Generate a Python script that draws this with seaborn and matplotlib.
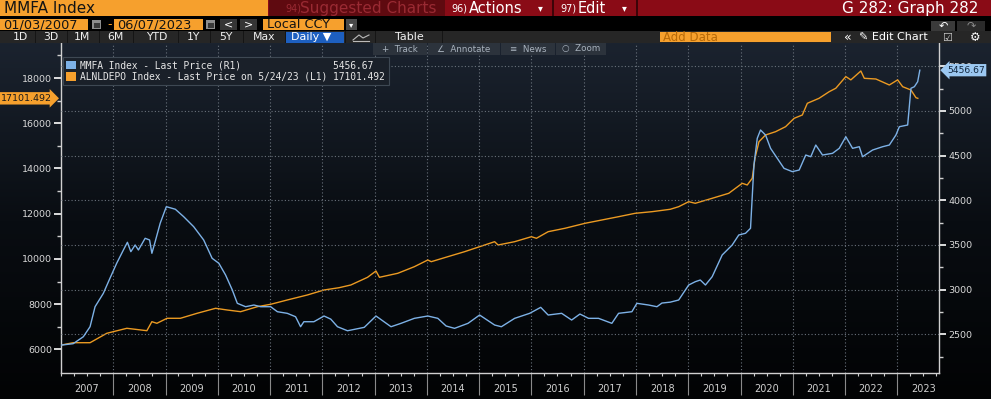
import numpy as np
import pandas as pd
import matplotlib
matplotlib.use("Agg")
import matplotlib.pyplot as plt
import matplotlib.dates as mdates
import matplotlib.transforms as mtrans
from matplotlib.patches import Rectangle, Patch
from matplotlib.colors import LinearSegmentedColormap
import seaborn as sns

# ---------------- data ----------------
mmfa_dates = ["2007-01-05","2007-03-27","2007-06-06","2007-07-23","2007-08-27","2007-10-24","2007-12-09",
    "2008-01-25","2008-03-12","2008-04-09","2008-05-03","2008-06-02","2008-06-25","2008-08-11","2008-09-11",
    "2008-09-27","2008-10-20","2008-11-24","2009-01-06","2009-03-10","2009-05-07","2009-07-16","2009-09-24",
    "2009-11-22","2010-01-08","2010-02-24","2010-04-12","2010-05-17","2010-07-14","2010-09-10","2010-10-27",
    "2011-01-05","2011-02-21","2011-05-01","2011-06-28","2011-08-02","2011-08-25","2011-11-03","2012-01-13",
    "2012-02-29","2012-04-16","2012-06-25","2012-10-20","2013-01-10","2013-04-25","2013-07-04","2013-10-05",
    "2014-01-07","2014-03-18","2014-05-15","2014-07-13","2014-10-15","2015-01-04","2015-04-19","2015-06-05",
    "2015-09-06","2015-12-20","2016-03-06","2016-04-27","2016-07-30","2016-10-08","2016-12-05","2017-02-03",
    "2017-04-14","2017-07-16","2017-09-01","2017-12-03","2018-01-07","2018-03-30","2018-05-27","2018-07-01",
    "2018-08-28","2018-10-26","2019-01-04","2019-02-19","2019-03-26","2019-05-01","2019-06-17","2019-08-26",
    "2019-11-04","2019-12-20","2020-02-05","2020-03-11","2020-04-04","2020-04-27","2020-05-20","2020-06-24",
    "2020-07-29","2020-09-14","2020-10-31","2020-12-28","2021-02-14","2021-04-01","2021-05-06","2021-06-10",
    "2021-07-27","2021-10-05","2021-11-21","2022-01-06","2022-02-22","2022-04-10","2022-05-03","2022-07-12",
    "2022-09-20","2022-11-06","2022-12-22","2023-01-15","2023-03-14","2023-04-06","2023-04-30","2023-05-23",
    "2023-06-07"]
mmfa_values = [2380, 2395, 2473, 2585, 2809, 2959, 3127,
    3295, 3444, 3530, 3425, 3500, 3444, 3575, 3556,
    3407, 3537, 3743, 3929, 3900, 3817, 3705, 3556,
    3351, 3295, 3164, 2996, 2847, 2809, 2828, 2809,
    2809, 2753, 2735, 2697, 2585, 2641, 2641, 2705,
    2670, 2585, 2540, 2578, 2705, 2585, 2623, 2679,
    2705, 2679, 2593, 2567, 2623, 2716, 2604, 2585,
    2679, 2735, 2802, 2716, 2735, 2660, 2727, 2679,
    2679, 2623, 2735, 2753, 2847, 2828, 2809, 2850,
    2860, 2884, 3052, 3089, 3108, 3052, 3145, 3388,
    3500, 3612, 3631, 3687, 4395, 4694, 4787, 4731,
    4582, 4470, 4358, 4321, 4339, 4507, 4488, 4619,
    4507, 4526, 4582, 4712, 4582, 4600, 4488, 4563,
    4600, 4619, 4731, 4824, 4843, 5254, 5272, 5328,
    5456.67]

depo_dates = ["2007-01-05","2007-03-27","2007-07-23","2007-11-17","2008-04-05","2008-08-23","2008-09-27",
    "2008-11-01","2009-01-11","2009-04-14","2009-08-09","2009-12-16","2010-03-07","2010-06-09","2010-10-04",
    "2011-01-05","2011-05-01","2011-09-18","2012-01-13","2012-04-27","2012-07-18","2012-11-12","2013-01-10",
    "2013-02-03","2013-06-11","2013-10-05","2014-01-07","2014-01-31","2014-05-27","2014-09-21","2015-01-04",
    "2015-04-19","2015-05-13","2015-09-06","2016-01-01","2016-02-05","2016-04-27","2016-08-22","2017-01-10",
    "2017-05-07","2017-09-01","2017-12-26","2018-04-22","2018-08-28","2018-10-26","2019-01-04","2019-02-19",
    "2019-06-17","2019-10-11","2020-01-13","2020-02-17","2020-03-23","2020-04-11","2020-05-09","2020-06-24",
    "2020-09-02","2020-11-11","2021-01-10","2021-03-08","2021-04-12","2021-07-03","2021-09-12","2021-10-28",
    "2022-01-06","2022-02-10","2022-04-21","2022-05-15","2022-08-04","2022-11-06","2023-01-03","2023-02-07",
    "2023-04-06","2023-05-11","2023-05-24"]
depo_values = [6199, 6300, 6300, 6716, 6937, 6831, 7229,
    7158, 7379, 7379, 7600, 7821, 7746, 7671, 7892,
    7998, 8188, 8409, 8630, 8731, 8851, 9191, 9470,
    9191, 9368, 9660, 9956, 9881, 10102, 10323, 10544,
    10765, 10619, 10765, 10986, 10915, 11207, 11357, 11578,
    11724, 11870, 12020, 12091, 12197, 12312, 12533, 12462,
    12683, 12904, 13346, 13271, 13567, 14451, 15185, 15481,
    15627, 15848, 16219, 16365, 16882, 17103, 17396, 17547,
    18063, 17917, 18309, 17986, 17956, 17691, 17917, 17616,
    17470, 17130, 17101.492]

years = list(range(2007, 2024))
year_labels = [str(y) for y in years]
left_ticks = [6000, 8000, 10000, 12000, 14000, 16000, 18000]
right_ticks = [2500, 3000, 3500, 4000, 4500, 5000, 5500]
period_buttons = ["1D", "3D", "1M", "6M", "YTD", "1Y", "5Y", "Max"]
mmfa_label = "MMFA Index - Last Price (R1)"
depo_label = "ALNLDEPO Index - Last Price on 5/24/23 (L1)"

# ---------------- style ----------------
BLUE = "#7db1e6"
ORANGE = "#eb9a22"
AMBER = "#f6a02d"
RED = "#8a0b16"
W, H = 991, 399
plt.rcParams["font.family"] = ["DejaVu Sans"]

fig = plt.figure(figsize=(W / 100, H / 100), dpi=100, facecolor="black")

def fx(x):
    return x / W

def fy(y):
    return 1 - y / H

def box(x0, y0, x1, y1, color, z=2, ec="none", lw=0.0):
    fig.add_artist(Rectangle((fx(x0), fy(y1)), (x1 - x0) / W, (y1 - y0) / H,
                             transform=fig.transFigure, facecolor=color,
                             edgecolor=ec, linewidth=lw, zorder=z))

def txt(x, y, s, size, color, ha="left", va="center", z=3, family=None, weight="normal"):
    kw = {}
    if family:
        kw["family"] = family
    fig.text(fx(x), fy(y), s, fontsize=size, color=color, ha=ha, va=va,
             zorder=z, weight=weight, **kw)

# ---- chart panel background gradient ----
bg = fig.add_axes([0, 0, 1, (H - 43) / H])
bg.set_zorder(-5)
grad = np.linspace(1, 0, 256).reshape(-1, 1)
cmap = LinearSegmentedColormap.from_list("bb", ["#020304", "#090d12", "#1b232f"])
bg.imshow(grad, aspect="auto", cmap=cmap, extent=[0, 1, 0, 1])
bg.axis("off")

# ---- main axes ----
ax = fig.add_axes([61 / W, (H - 373) / H, 878 / W, 330 / H])
ax.patch.set_alpha(0)
ax2 = ax.twinx()
ax2.patch.set_alpha(0)

d_depo = pd.to_datetime(depo_dates)
d_mmfa = pd.to_datetime(mmfa_dates)
sns.lineplot(x=d_depo, y=depo_values, ax=ax, color=ORANGE, linewidth=1.0)
sns.lineplot(x=d_mmfa, y=mmfa_values, ax=ax2, color=BLUE, linewidth=1.0)

for a in (ax, ax2):
    a.set_xlabel("")
    a.set_ylabel("")

ax.set_xlim(pd.Timestamp("2007-01-01"), pd.Timestamp("2023-10-19"))
ax.set_ylim(4961, 19547)
ax2.set_ylim(2067, 5761)

# y ticks
ax.set_yticks(left_ticks)
ax.set_yticks([v + 1000 for v in left_ticks], minor=True)
ax.tick_params(axis="y", which="major", length=5, width=1.2, color="white",
               labelcolor="#d9d9d9", labelsize=6.8, pad=1.5)
ax.tick_params(axis="y", which="minor", length=3, width=1, color="#cfcfcf")
ax2.set_yticks(right_ticks)
ax2.set_yticks([v - 250 for v in right_ticks], minor=True)
ax2.tick_params(axis="y", which="major", length=5, width=1.2, color="white",
                labelcolor="#d9d9d9", labelsize=6.8, pad=1.5)
ax2.tick_params(axis="y", which="minor", length=3, width=1, color="#cfcfcf")

# x ticks: year separators + quarterly minor ticks
year_starts = [pd.Timestamp(f"{y}-01-01") for y in years[1:]]
ax.set_xticks(year_starts)
ax.xaxis.set_minor_locator(mdates.MonthLocator(bymonth=[1, 4, 7, 10]))
ax.tick_params(axis="x", which="major", length=16, width=0.8, color="#8a8a8a",
               labelbottom=False)
ax.tick_params(axis="x", which="minor", length=2.5, width=0.8, color="#cfcfcf")
sec = ax.secondary_xaxis("bottom")
sec.set_xticks([mdates.date2num(pd.Timestamp(f"{y}-07-02")) for y in years], labels=year_labels)
sec.tick_params(length=0, pad=8, labelsize=7, labelcolor="#d0d0d0")
sec.spines["bottom"].set_visible(False)

# spines
for a in (ax, ax2):
    for s in a.spines.values():
        s.set_visible(False)
ax.spines["left"].set_visible(True)
ax.spines["bottom"].set_visible(True)
ax2.spines["right"].set_visible(True)
for s in (ax.spines["left"], ax.spines["bottom"], ax2.spines["right"]):
    s.set_color("#d0d0d0")
    s.set_linewidth(1.0)

# grid
grid_kw = dict(color="#6a727c", linestyle=(0, (1, 2)), linewidth=0.8)
ax.grid(axis="x", which="major", **grid_kw)
ax.grid(axis="y", which="both", visible=False)
ax2.grid(axis="y", which="major", **grid_kw)

# legend
handles = [Patch(facecolor=BLUE, edgecolor="none"), Patch(facecolor=AMBER, edgecolor="none")]
labels = [mmfa_label.ljust(44) + f"{mmfa_values[-1]:.2f}",
          depo_label + " " + f"{depo_values[-1]:.3f}"]
leg = ax2.legend(handles, labels, loc="upper left", bbox_to_anchor=(0.002, 0.958),
                 borderaxespad=0, frameon=True, facecolor="#1a2029", edgecolor="#3e4853",
                 framealpha=1, handlelength=1.0, handleheight=1.0, handletextpad=0.5,
                 borderpad=0.35, labelspacing=0.15, labelcolor="#e6e6e6",
                 prop={"family": "DejaVu Sans Mono", "size": 6.9}, fancybox=False)
leg.get_frame().set_linewidth(0.8)
leg.set_zorder(20)

# value tags on the axes
tl = mtrans.blended_transform_factory(ax.transAxes, ax.transData)
ax.text(-0.068, depo_values[-1], f"{depo_values[-1]:.3f}", transform=tl, fontsize=6.8,
        color="#1a1a1a", ha="left", va="center", clip_on=False, zorder=30,
        bbox=dict(boxstyle="rarrow,pad=0.18", facecolor=AMBER, edgecolor="none"))
tr = mtrans.blended_transform_factory(ax2.transAxes, ax2.transData)
ax2.text(1.009, mmfa_values[-1], f"{mmfa_values[-1]:.2f}", transform=tr, fontsize=6.6,
         color="#10253d", ha="left", va="center", clip_on=False, zorder=30,
         bbox=dict(boxstyle="larrow,pad=0.18", facecolor="#9cc8f2", edgecolor="none"))

# ---------------- terminal header ----------------
# row 1
box(0, 0, 991, 16, RED, z=1)
box(0, 0, 268, 16, AMBER)
txt(4, 8.5, "MMFA Index", 11, "#141414")
box(269, 0, 445, 16, "#5f0a10")
txt(285, 8.5, "94)", 7, "#9a2a33")
txt(300, 8.5, "Suggested Charts", 11, "#9a2a33")
box(446, 0, 552, 16, RED)
txt(451, 8.5, "96)", 7, "white")
txt(469, 8.5, "Actions", 10.5, "white")
txt(538, 8.5, "▾", 7, "white")
box(552, 0, 554, 16, "#3c0408")
box(555, 0, 636, 16, RED)
txt(560, 8.5, "97)", 7, "white")
txt(578, 8.5, "Edit", 10.5, "white")
txt(622, 8.5, "▾", 7, "white")
box(636, 0, 638, 16, "#3c0408")
txt(978, 8.5, "G 282: Graph 282", 11, "white", ha="right")

# row 2
box(0, 16, 991, 31, "black", z=1)
box(0, 19, 88, 30, AMBER)
txt(3, 24.8, "01/03/2007", 9.3, "#141414")
box(92, 20, 101, 29, "#8d8d8d")
box(93.5, 23, 99.5, 28, "#3a3a3a", z=2.5)
txt(110, 24.5, "-", 9, AMBER, ha="center")
box(114, 19, 203, 30, AMBER)
txt(117, 24.8, "06/07/2023", 9.3, "#141414")
box(206, 20, 215, 29, "#8d8d8d")
box(207.5, 23, 213.5, 28, "#3a3a3a", z=2.5)
box(220, 19, 237, 30, "#353535")
txt(228.5, 24.5, "<", 8, "white", ha="center")
box(240, 19, 257, 30, "#353535")
txt(248.5, 24.5, ">", 8, "white", ha="center")
box(263, 19, 344, 30, AMBER)
txt(267, 24.8, "Local CCY", 9.3, "#141414")
box(346, 19, 357, 30, "#4a4a4a")
txt(351.5, 24.5, "▾", 6, "white", ha="center")
box(931, 21, 955, 31, "#3a3a3a")
txt(943, 26, "↶", 8, "white", ha="center")
box(957, 21, 985, 31, "#2a2a2a")
txt(971, 26, "↷", 8, "#8a8a8a", ha="center")

# row 3
box(0, 31, 991, 43, "#262626", z=1)
centers = [20, 51, 82, 115, 157, 193, 226, 264]
for c, lab in zip(centers, period_buttons):
    txt(c, 37.5, lab, 7.8, "#f0f0f0", ha="center")
for sx in [35, 67, 99, 133, 178, 210, 243, 285, 345, 375, 442]:
    box(sx, 31, sx + 1, 43, "#151515", z=2.5)
box(286, 32, 344, 43, "#1d5fc0")
txt(291, 37.5, "Daily ▼", 8, "white")
fig.add_artist(plt.Line2D([fx(353), fx(359), fx(363), fx(369)],
                          [fy(40), fy(35), fy(38), fy(35)],
                          transform=fig.transFigure, color="#bbbbbb", lw=0.8, zorder=3))
fig.add_artist(plt.Line2D([fx(353), fx(369)], [fy(41), fy(41)],
                          transform=fig.transFigure, color="#bbbbbb", lw=0.8, zorder=3))
txt(409, 37.5, "Table", 8, "#f0f0f0", ha="center")
box(660, 32, 831, 42, AMBER)
txt(663, 37.2, "Add Data", 8.5, "#b86a08")
txt(848, 37.5, "«", 9, "white", ha="center")
txt(859, 37.5, "✎ Edit Chart", 8, "white")
txt(947, 37.5, "☑", 8, "#cfcfcf", ha="center")
txt(975, 37.5, "⚙", 8.5, "white", ha="center")

# plot toolbar
for (x0, x1, lab) in [(373, 427, "+  Track"), (428, 500, "∠  Annotate"),
                      (501, 555, "≡  News"), (556, 606, "○  Zoom")]:
    box(x0, 43, x1, 55, "#2c333c", z=4)
    txt((x0 + x1) / 2, 49, lab, 6.3, "#a8b2bd", ha="center", z=5)

fig.savefig("out.png", dpi=100, facecolor="black")
